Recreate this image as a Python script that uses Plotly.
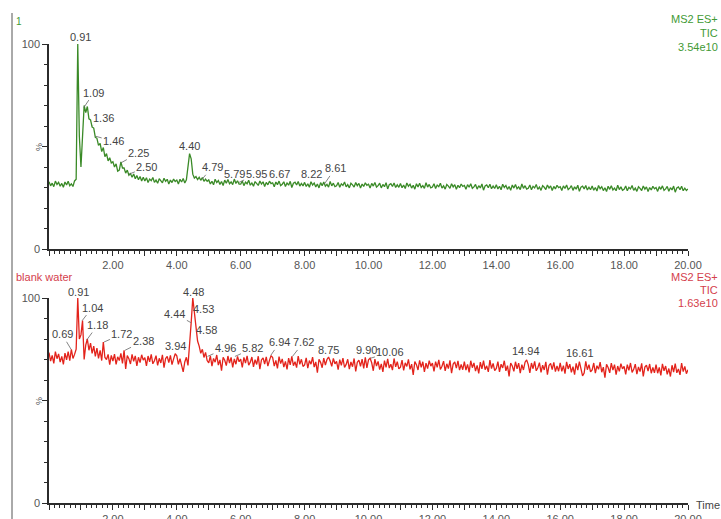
import numpy as np
import plotly.graph_objects as go

# ---------------- data ----------------
scan_start = 0.0
scan_step = 0.05  # min between points

green_values = [
    32.8, 30.8, 32.1, 30.4, 33.1, 31.5, 32.5, 30.6, 32.0, 30.1, 32.7, 31.2, 33.0, 30.9, 31.8, 30.5, 33.2, 34.0, 100, 55,
    40, 58, 70, 66.5, 69.5, 63.5, 63, 59.5, 59, 54.5, 54, 50.5, 51.5, 47.5, 49.5, 45, 46.5, 43, 44.5, 42,
    42.5, 40, 41.5, 38, 38.5, 42.5, 39.5, 39.5, 37, 38.5, 36, 36.8, 35, 36.6, 34.3, 35.8, 33.8, 35.4, 33.2, 35.0,
    33.2, 34.8, 32.4, 34.1, 33.3, 34.9, 32.5, 33.6, 32.1, 34.3, 33.4, 32.3, 34.5, 33.0, 34.0, 31.7, 33.6, 32.4, 34.1, 32.9,
    33.6, 31.7, 34.0, 32.7, 34.4, 32.2, 33.8, 40, 46.5, 44, 36.5, 34.6, 35.3, 33.9, 35.0, 33.5, 34.9, 33.0, 34.1, 33.0,
    33.7, 31.7, 33.0, 31.3, 34.0, 32.4, 33.4, 31.5, 32.9, 31.0, 33.6, 32.1, 33.9, 31.8, 32.7, 31.4, 34.1, 32.0, 33.3, 31.6,
    31.6, 33.2, 30.9, 32.6, 31.8, 33.5, 31.1, 32.2, 30.6, 32.9, 32.1, 31.0, 33.2, 31.7, 32.8, 30.5, 32.5, 31.3, 33.1, 31.9,
    32.3, 30.4, 32.7, 31.4, 33.1, 30.9, 31.6, 32.8, 30.5, 32.2, 31.1, 33.0, 30.0, 32.1, 32.6, 31.2, 32.9, 30.7, 32.0, 30.8,
    32.5, 30.5, 31.8, 30.1, 32.8, 31.2, 32.2, 30.3, 31.7, 29.8, 32.4, 30.9, 32.7, 30.6, 31.5, 30.2, 32.9, 30.8, 32.1, 30.4,
    30.8, 32.4, 30.1, 31.8, 31.0, 32.7, 30.3, 31.4, 29.8, 32.1, 31.3, 30.2, 32.4, 30.9, 32.0, 29.7, 31.7, 30.5, 32.3, 31.1,
    31.6, 29.7, 32.0, 30.7, 32.4, 30.2, 30.9, 32.1, 29.8, 31.5, 30.4, 32.3, 29.3, 31.4, 31.9, 30.5, 32.2, 30.0, 31.3, 30.1,
    31.9, 29.9, 31.2, 29.5, 32.2, 30.6, 31.6, 29.7, 31.1, 29.2, 31.8, 30.3, 32.1, 30.0, 30.9, 29.6, 32.3, 30.2, 31.5, 29.8,
    30.2, 31.8, 29.5, 31.2, 30.4, 32.1, 29.7, 30.8, 29.2, 31.5, 30.7, 29.6, 31.8, 30.3, 31.4, 29.1, 31.1, 29.9, 31.7, 30.5,
    31.0, 29.1, 31.4, 30.1, 31.8, 29.6, 30.3, 31.5, 29.2, 30.9, 29.8, 31.7, 28.7, 30.8, 31.3, 29.9, 31.6, 29.4, 30.7, 29.5,
    31.3, 29.3, 30.6, 28.9, 31.6, 30.0, 31.0, 29.1, 30.5, 28.6, 31.2, 29.7, 31.5, 29.4, 30.3, 29.0, 31.7, 29.6, 30.9, 29.2,
    29.6, 31.2, 28.9, 30.6, 29.8, 31.5, 29.1, 30.2, 28.6, 30.9, 30.1, 29.0, 31.2, 29.7, 30.8, 28.5, 30.5, 29.3, 31.1, 29.9,
    30.4, 28.5, 30.8, 29.5, 31.2, 29.0, 29.7, 30.9, 28.6, 30.3, 29.2, 31.1, 28.1, 30.2, 30.7, 29.3, 31.0, 28.8, 30.1, 28.9,
    30.7, 28.7, 30.0, 28.3, 31.0, 29.4, 30.4, 28.5, 29.9, 28.0, 30.6, 29.1, 30.9, 28.8, 29.7, 28.4, 31.1, 29.0, 30.3, 28.6,
    29.1, 30.7, 28.4, 30.1, 29.3, 31.0, 28.6, 29.7, 28.1, 30.4, 29.6, 28.5, 30.7, 29.2, 30.3, 28.0, 30.0, 28.8, 30.6, 29.4,
    30.0, 28.1, 30.4, 29.1, 30.8, 28.6, 29.3, 30.5, 28.2, 29.9, 28.8, 30.7, 27.7, 29.8, 30.3, 28.9, 30.6, 28.4, 29.7, 28.5,
    29.3,
]

red_values = [
    73.4, 69.2, 72.0, 68.1, 73.8, 70.4, 72.7, 68.7, 71.5, 67.6, 73.1, 69.8, 73.9, 69.4, 75.0, 70.5, 72.5, 75.0, 100, 80,
    82, 89, 70, 77, 80, 74.5, 78, 73, 76.5, 71.5, 75.5, 70.5, 74.5, 69.5, 78.5, 71, 70, 72.5, 67.5, 72,
    69.2, 72.6, 67.6, 71.3, 69.5, 73.0, 68.1, 74.5, 65.4, 71.9, 70.4, 67.8, 72.5, 69.1, 71.8, 66.9, 71.1, 68.5, 72.3, 69.7,
    70.9, 66.9, 71.7, 68.9, 72.5, 67.9, 69.4, 71.9, 67.1, 70.6, 68.3, 72.3, 66.0, 70.5, 71.5, 68.5, 72.0, 67.5, 70.3, 72.8,
    71.8, 67.6, 70.4, 66.5, 64.0, 68.8, 71.1, 67.1, 76, 88, 100, 93, 84, 79, 76.5, 73, 75, 71, 73.5, 69.5,
    68.4, 71.8, 66.8, 70.5, 68.7, 72.2, 67.3, 69.8, 64.6, 71.1, 69.6, 67.0, 71.7, 68.3, 71.0, 66.1, 70.3, 67.7, 71.5, 68.9,
    70.2, 66.2, 71.0, 68.2, 71.8, 67.2, 68.7, 71.2, 66.4, 69.9, 67.6, 71.6, 65.3, 69.8, 70.8, 67.8, 71.3, 66.8, 69.6, 71.9,
    71.0, 66.8, 69.6, 65.7, 71.4, 68.0, 70.3, 66.3, 69.1, 65.2, 70.7, 67.4, 71.5, 67.0, 68.9, 66.0, 71.7, 67.6, 70.1, 66.6,
    67.4, 70.8, 65.8, 69.5, 67.7, 71.2, 66.3, 68.8, 63.6, 70.1, 68.6, 66.0, 70.7, 67.3, 70.0, 71.2, 69.3, 66.7, 70.5, 67.9,
    69.1, 65.1, 69.9, 67.1, 70.7, 66.1, 67.6, 70.1, 65.3, 68.8, 66.5, 70.5, 64.2, 68.7, 69.7, 66.7, 70.2, 65.7, 71.0, 65.9,
    69.8, 70.6, 68.4, 64.5, 70.2, 66.8, 69.1, 65.1, 67.9, 64.0, 69.5, 66.2, 70.3, 65.8, 67.7, 64.8, 70.5, 66.4, 68.9, 65.4,
    66.3, 69.7, 64.7, 68.4, 66.6, 70.1, 65.2, 67.7, 62.5, 69.0, 67.5, 64.9, 69.6, 66.2, 68.9, 64.0, 68.2, 65.6, 69.4, 66.8,
    68.2, 64.2, 69.0, 66.2, 69.8, 65.2, 66.7, 69.2, 64.4, 67.9, 65.6, 69.6, 63.3, 67.8, 68.8, 65.8, 69.3, 64.8, 67.6, 65.0,
    69.0, 64.8, 67.6, 63.7, 69.4, 66.0, 68.3, 64.3, 67.1, 63.2, 68.7, 65.4, 69.5, 65.0, 66.9, 64.0, 69.7, 65.6, 68.1, 64.6,
    65.6, 69.0, 64.0, 67.7, 65.9, 69.4, 64.5, 67.0, 61.8, 68.3, 66.8, 64.2, 68.9, 65.5, 68.2, 63.3, 67.5, 64.9, 68.7, 69.8,
    67.5, 63.5, 68.3, 65.5, 69.1, 64.5, 66.0, 68.5, 63.7, 67.2, 64.9, 68.9, 62.6, 67.1, 68.1, 65.1, 68.6, 64.1, 66.9, 64.3,
    68.4, 64.2, 67.0, 63.1, 68.8, 65.4, 67.7, 63.7, 66.5, 62.6, 68.1, 64.8, 69.0, 64.4, 62.0, 63.4, 69.1, 65.0, 67.5, 64.0,
    64.9, 68.3, 63.3, 67.0, 65.2, 68.7, 63.8, 66.3, 61.1, 67.6, 66.1, 63.5, 68.2, 64.8, 67.5, 62.6, 66.8, 64.2, 68.0, 65.4,
    66.7, 62.7, 67.5, 64.7, 68.3, 63.7, 65.2, 67.7, 62.9, 66.4, 64.1, 68.1, 61.8, 66.3, 67.3, 64.3, 67.8, 63.3, 66.1, 63.5,
    67.5, 63.3, 66.1, 62.2, 67.9, 64.5, 66.8, 62.8, 65.6, 61.7, 67.2, 63.9, 68.0, 63.5, 65.4, 62.5, 68.2, 64.1, 66.6, 63.1,
    65.0,
]

top_peak_times = [0.91, 1.09, 1.36, 1.46, 2.25, 2.50, 4.40, 4.79, 5.79, 5.95, 6.67, 8.22, 8.61]
top_peak_heights = [100, 69, 60, 55, 42, 36.5, 46.5, 34, 32.5, 32.5, 32, 31.5, 31.5]

bottom_peak_times = [0.91, 1.04, 1.18, 0.69, 1.72, 2.38, 3.94, 4.48, 4.44, 4.53, 4.58, 4.96,
                     5.82, 6.94, 7.62, 8.75, 9.90, 10.06, 14.94, 16.61]
bottom_peak_heights = [100, 89, 79.5, 75, 78.5, 74.5, 72.8, 100, 88, 93, 84, 71.5,
                       71.5, 72, 71.5, 71.2, 71, 70.6, 69.8, 69]

x_tick_values = list(range(0, 21))
x_tick_labels = [f"{v:.2f}" if (v % 2 == 0 and v > 0) else "" for v in x_tick_values]
y_tick_values = [0, 50, 100]
y_tick_labels = ["0", "", "100"]

top_header = ["MS2 ES+", "TIC", "3.54e10"]
bottom_header = ["MS2 ES+", "TIC", "1.63e10"]

# ---------------- layout / style (positions in px) ----------------
top_label_offsets = [(2, -7, False), (10, -15, True), (11, -8, True), (18, 5, True), (18, -10, True),
                     (18, -7, True), (0, -8, False), (10, -12, True), (1, -8, False), (17, -8, True),
                     (17, -9, False), (0, -10, False), (11, -16, True)]
bottom_label_offsets = [(0, -6, False), (10, -13, True), (11, -15, True), (-9, -15, True), (18, -8, True),
                        (18, -9, True), (1, -8, False), (1, -6, False), (-16, -9, True), (10, -3, False),
                        (11, -1, True), (18, -8, True), (18, -8, True), (9, -13, True), (11, -14, True),
                        (0, -7, False), (1, -7, False), (20, -6, True), (0, -9, False), (0, -9, False)]

W, H = 721, 519
GREEN = "#3a8a27"
RED = "#e3231b"
TEXT_GREEN = "#3f9a35"
TEXT_RED = "#d4404c"
FONT = "Liberation Sans, Arial, sans-serif"

times = scan_start + scan_step * np.arange(len(green_values))


def py(px):
    return 1 - px / H


x_dom = [49 / W, 688 / W]
top_dom = [py(249), py(44)]
bot_dom = [py(503), py(298)]

fig = go.Figure()
fig.add_trace(go.Scatter(x=times, y=green_values, mode="lines",
                         line=dict(color=GREEN, width=1.3), xaxis="x", yaxis="y",
                         hoverinfo="skip", showlegend=False))
fig.add_trace(go.Scatter(x=times, y=red_values, mode="lines",
                         line=dict(color=RED, width=1.3), xaxis="x2", yaxis="y2",
                         hoverinfo="skip", showlegend=False))

axis_common = dict(showline=True, linecolor="#2b2b2b", linewidth=1.5, ticks="outside",
                   tickcolor="#2b2b2b", showgrid=False, zeroline=False, fixedrange=True,
                   automargin=False,
                   tickfont=dict(family=FONT, size=11, color="#555555"))

xaxis_cfg = dict(axis_common, range=[0, 20], domain=x_dom, tickmode="array",
                 tickvals=x_tick_values, ticktext=x_tick_labels, ticklen=5,
                 minor=dict(dtick=1 / 6, tick0=0, ticklen=3, ticks="outside", tickcolor="#2b2b2b"))
yaxis_cfg = dict(axis_common, range=[0, 100], tickmode="array", tickvals=y_tick_values,
                 ticktext=y_tick_labels, ticklen=5,
                 minor=dict(dtick=10, tick0=0, ticklen=3, ticks="outside", tickcolor="#2b2b2b"))

fig.update_layout(
    width=W, height=H, margin=dict(l=0, r=0, t=0, b=0, pad=0), autosize=False,
    paper_bgcolor="white", plot_bgcolor="white", showlegend=False,
    font=dict(family=FONT, size=11, color="#444444"),
    xaxis=dict(xaxis_cfg, anchor="y"),
    yaxis=dict(yaxis_cfg, domain=top_dom, anchor="x"),
    xaxis2=dict(xaxis_cfg, anchor="y2"),
    yaxis2=dict(yaxis_cfg, domain=bot_dom, anchor="x2"),
)

annotations = []


def add_peaks(times_, heights_, offsets_, xref, yref):
    for t, v, (dx, dy, leader) in zip(times_, heights_, offsets_):
        annotations.append(dict(
            x=t, y=v, xref=xref, yref=yref, text=f"{t:.2f}", showarrow=True,
            ax=dx, ay=dy, arrowhead=0, arrowwidth=0.8,
            arrowcolor="#666666" if leader else "rgba(0,0,0,0)", standoff=0,
            font=dict(family=FONT, size=11, color="#444444"),
        ))


add_peaks(top_peak_times, top_peak_heights, top_label_offsets, "x", "y")
add_peaks(bottom_peak_times, bottom_peak_heights, bottom_label_offsets, "x2", "y2")

# headers (right)
for lines, color, ys in [(top_header, TEXT_GREEN, [19, 33, 47]), (bottom_header, TEXT_RED, [277, 290, 303])]:
    for txt, ypx in zip(lines, ys):
        annotations.append(dict(x=720 / W, y=py(ypx), xref="paper", yref="paper", text=txt,
                                showarrow=False, xanchor="right", yanchor="middle",
                                font=dict(family=FONT, size=11, color=color)))

# left titles
annotations.append(dict(x=14 / W, y=py(22), xref="paper", yref="paper", text="1", showarrow=False,
                        xanchor="left", yanchor="middle", font=dict(family=FONT, size=10, color=TEXT_GREEN)))
annotations.append(dict(x=14 / W, y=py(277), xref="paper", yref="paper", text="blank water",
                        showarrow=False, xanchor="left", yanchor="middle",
                        font=dict(family=FONT, size=11, color=TEXT_RED)))
# % labels
for ypx in (147, 401):
    annotations.append(dict(x=39 / W, y=py(ypx), xref="paper", yref="paper", text="%", textangle=-90,
                            showarrow=False, xanchor="center", yanchor="middle",
                            font=dict(family=FONT, size=9, color="#555555")))
# Time label
annotations.append(dict(x=694 / W, y=py(505), xref="paper", yref="paper", text="Time", showarrow=False,
                        xanchor="left", yanchor="middle", font=dict(family=FONT, size=11, color="#444444")))

fig.update_layout(annotations=annotations)

# left frame line
fig.add_shape(type="line", xref="paper", yref="paper", x0=12 / W, x1=12 / W, y0=0, y1=py(13),
              line=dict(color="#555555", width=1))

fig.write_html("out.html")
